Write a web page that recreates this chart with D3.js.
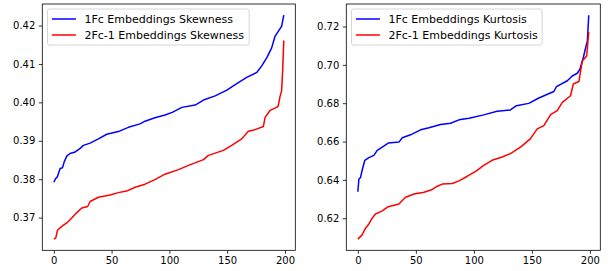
<!DOCTYPE html>
<html>
<head>
<meta charset="utf-8">
<script src="https://cdn.jsdelivr.net/npm/d3@7"></script>
<style>
  body { margin: 0; background: #fff; }
  svg { display: block; font-family: "DejaVu Sans", sans-serif; }
</style>
</head>
<body>
<svg id="chart" width="616" height="271"></svg>
<script>
// Sorted skewness values (index -> value)
const skewFcX = [0, 1.7, 3, 5.5, 7.5, 9, 11.2, 14, 18.5, 22.8, 25.6, 31.4, 38.6, 45.8, 55.8, 64.5, 74.6, 78.9, 87.5, 96.2, 102.5, 110.8, 122.3, 129.5, 139.6, 149.7, 158.3, 166.9, 175.6, 179.9, 184.2, 188.5, 191.4, 194.2, 197.1, 199];
const skewFcY = [0.3792, 0.3802, 0.3806, 0.3828, 0.3830, 0.3845, 0.3860, 0.3867, 0.3871, 0.3880, 0.3888, 0.3894, 0.3905, 0.3917, 0.3924, 0.3935, 0.3944, 0.3951, 0.3960, 0.3967, 0.3974, 0.3987, 0.3993, 0.4006, 0.4017, 0.4032, 0.4049, 0.4065, 0.4078, 0.4095, 0.4116, 0.4142, 0.4172, 0.4185, 0.4198, 0.4227];

const skewFc1X = [0, 1.7, 3.2, 6.9, 11.2, 15.5, 19.9, 24.2, 29.3, 31.4, 38.6, 48.7, 55.8, 63, 70.3, 78.9, 87.5, 96.2, 107.9, 116.5, 129.5, 133.8, 146.7, 153.9, 162.6, 168.3, 174.1, 181.3, 182.8, 187.1, 192.8, 194.2, 195.7, 197.1, 198, 199];
const skewFc1Y = [0.3644, 0.3647, 0.3667, 0.3677, 0.3686, 0.3699, 0.3713, 0.3725, 0.3729, 0.3742, 0.3753, 0.3759, 0.3765, 0.3769, 0.3779, 0.3787, 0.3799, 0.3813, 0.3825, 0.3836, 0.3851, 0.3862, 0.3875, 0.3888, 0.3905, 0.3925, 0.3929, 0.3937, 0.3961, 0.3979, 0.3987, 0.3991, 0.4015, 0.4030, 0.4082, 0.4161];

// Sorted kurtosis values
const kurtFcX = [0, 0.9, 2.3, 3.7, 6, 9.5, 13.8, 16.7, 21, 26.2, 35.4, 38.3, 45.4, 54.1, 61.3, 71.3, 79.9, 87.2, 95.9, 108.5, 120, 131.5, 136.7, 147.3, 156, 168.9, 171.2, 180.5, 184.8, 189.1, 191.4, 194.3, 196.3, 197.8, 199];
const kurtFcY = [0.6338, 0.6404, 0.6412, 0.6450, 0.6502, 0.6516, 0.6528, 0.6554, 0.6571, 0.6592, 0.6597, 0.6620, 0.6635, 0.6661, 0.6672, 0.6689, 0.6695, 0.6713, 0.6721, 0.6739, 0.6758, 0.6765, 0.6787, 0.6799, 0.6827, 0.6861, 0.6886, 0.6917, 0.6942, 0.6956, 0.6977, 0.7037, 0.7089, 0.7124, 0.7259];

const kurtFc1X = [0, 3.7, 6.6, 9.5, 12.3, 15.2, 21, 26.2, 35.4, 41.1, 48.4, 57, 64.2, 68.5, 72.8, 81.4, 87.2, 94.4, 102.2, 108.5, 115.7, 124.4, 131.5, 140.2, 148.8, 154.6, 160.3, 166.1, 171.8, 176.2, 183.3, 185.7, 190.5, 193.4, 197.2, 199];
const kurtFc1Y = [0.6091, 0.6113, 0.6148, 0.6170, 0.6200, 0.6222, 0.6238, 0.6260, 0.6274, 0.6309, 0.6326, 0.6335, 0.6350, 0.6367, 0.6378, 0.6381, 0.6395, 0.6419, 0.6447, 0.6476, 0.6502, 0.6519, 0.6537, 0.6571, 0.6615, 0.6666, 0.6683, 0.6740, 0.6761, 0.6804, 0.6839, 0.6900, 0.6913, 0.7020, 0.7046, 0.7172];

const xTicks = [0, 50, 100, 150, 200];
const skewTicks = [0.37, 0.38, 0.39, 0.40, 0.41, 0.42];
const kurtTicks = [0.62, 0.64, 0.66, 0.68, 0.70, 0.72];

const svg = d3.select("#chart");

function drawPanel(opts) {
  const { left, right, top, bottom, series, yTicks, legendW } = opts;
  const g = svg.append("g");

  // matplotlib-like 5% margins
  const allY = series.flatMap((s) => s.y);
  const yMin = d3.min(allY), yMax = d3.max(allY);
  const yPad = (yMax - yMin) * 0.05;
  const xPad = 199 * 0.05;

  const x = d3.scaleLinear().domain([-xPad, 199 + xPad]).range([left, right]);
  const y = d3.scaleLinear().domain([yMin - yPad, yMax + yPad]).range([bottom, top]);

  const line = d3.line().x((d) => x(d[0])).y((d) => y(d[1]));

  series.forEach((s) => {
    g.append("path")
      .datum(s.x.map((v, i) => [v, s.y[i]]))
      .attr("d", line)
      .attr("fill", "none")
      .attr("stroke", s.color)
      .attr("stroke-width", 1.5)
      .attr("stroke-linejoin", "round");
  });

  // axes
  const xAxis = g.append("g")
    .attr("transform", `translate(0,${bottom})`)
    .call(d3.axisBottom(x).tickValues(xTicks).tickSize(3.5).tickPadding(3.5).tickFormat(d3.format("d")));
  const yAxis = g.append("g")
    .attr("transform", `translate(${left},0)`)
    .call(d3.axisLeft(y).tickValues(yTicks).tickSize(3.5).tickPadding(3.5).tickFormat(d3.format(".2f")));

  [xAxis, yAxis].forEach((a) => {
    a.select(".domain").remove();
    a.selectAll("line").attr("stroke", "#000").attr("stroke-width", 0.8);
    a.selectAll("text").attr("fill", "#000").style("font-size", "10px").style("font-family", "DejaVu Sans");
  });

  // frame
  g.append("rect")
    .attr("x", left).attr("y", top)
    .attr("width", right - left).attr("height", bottom - top)
    .attr("fill", "none").attr("stroke", "#000").attr("stroke-width", 0.8);

  // legend
  const lg = g.append("g").attr("transform", `translate(${left + 5.2},${top + 5})`);
  lg.append("rect")
    .attr("width", legendW).attr("height", 36)
    .attr("rx", 2).attr("fill", "#fff").attr("fill-opacity", 0.8)
    .attr("stroke", "#ccc").attr("stroke-width", 0.8);
  series.forEach((s, i) => {
    const cy = 10 + i * 16;
    lg.append("line")
      .attr("x1", 4.4).attr("x2", 28.4).attr("y1", cy).attr("y2", cy)
      .attr("stroke", s.color).attr("stroke-width", 1.5);
    lg.append("text")
      .attr("x", 37).attr("y", cy).attr("dy", "0.35em")
      .style("font-size", "11px").attr("fill", "#000")
      .text(s.label);
  });
}

drawPanel({
  left: 42.3, right: 295.3, top: 4, bottom: 250.3,
  yTicks: skewTicks, legendW: 201.7,
  series: [
    { x: skewFcX, y: skewFcY, color: "blue", label: "1Fc Embeddings Skewness" },
    { x: skewFc1X, y: skewFc1Y, color: "red", label: "2Fc-1 Embeddings Skewness" },
  ],
});

drawPanel({
  left: 346.3, right: 600.3, top: 4, bottom: 250.3,
  yTicks: kurtTicks, legendW: 190.6,
  series: [
    { x: kurtFcX, y: kurtFcY, color: "blue", label: "1Fc Embeddings Kurtosis" },
    { x: kurtFc1X, y: kurtFc1Y, color: "red", label: "2Fc-1 Embeddings Kurtosis" },
  ],
});
</script>
</body>
</html>
